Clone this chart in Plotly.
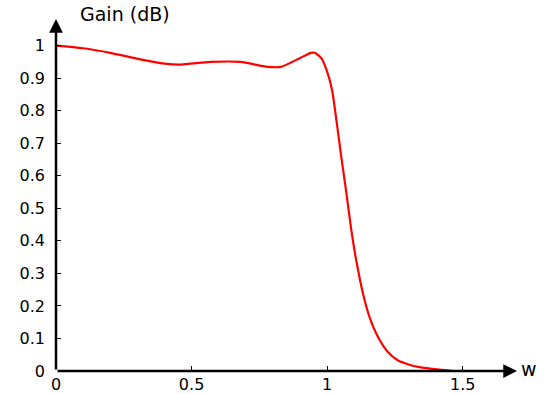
import plotly.graph_objects as go

# Frequency (w) and gain values
w = [0.0, 0.10, 0.20, 0.31, 0.40, 0.46, 0.57, 0.68, 0.78, 0.83, 0.90, 0.94, 0.954,
     0.979, 0.997, 1.018, 1.034, 1.052, 1.071, 1.089, 1.107, 1.132, 1.156, 1.187,
     1.222, 1.26, 1.30, 1.34, 1.414, 1.475, 1.524]
gain = [1.0, 0.992, 0.978, 0.958, 0.945, 0.942, 0.950, 0.950, 0.935, 0.935, 0.962, 0.978, 0.978,
        0.961, 0.927, 0.864, 0.771, 0.658, 0.546, 0.433, 0.341, 0.238, 0.166, 0.105,
        0.060, 0.033, 0.020, 0.012, 0.004, -0.001, -0.006]

x_ticks = [0, 0.5, 1, 1.5]
x_tick_labels = ["0", "0.5", "1", "1.5"]
y_ticks = [0, 0.1, 0.2, 0.3, 0.4, 0.5, 0.6, 0.7, 0.8, 0.9, 1.0]
y_tick_labels = ["0", "0.1", "0.2", "0.3", "0.4", "0.5", "0.6", "0.7", "0.8", "0.9", "1"]

x_max = 1.70
y_max = 1.082

FONT = "DejaVu Sans, Liberation Sans, Arial, sans-serif"

W, H = 544, 394
L, R, T, B = 55.5, 27, 19, 23.3
pw = W - L - R
ph = H - T - B


def px_to_paper(px, py):
    """Convert window pixel coordinates to paper coordinates."""
    return (px - L) / pw, (H - B - py) / ph


fig = go.Figure()
fig.add_trace(go.Scatter(
    x=w, y=gain, mode="lines",
    line=dict(color="#ff0000", width=2.2, shape="spline", smoothing=0.6),
    cliponaxis=False, showlegend=False, hoverinfo="skip",
))

gx, gy = px_to_paper(125, 14)
wx, wy = px_to_paper(519, 369)

fig.update_layout(
    width=W, height=H,
    margin=dict(l=L, r=R, t=T, b=B, pad=0, autoexpand=False),
    paper_bgcolor="white", plot_bgcolor="white",
    font=dict(family=FONT, size=16, color="black"),
    xaxis=dict(
        range=[0, x_max], showgrid=False, zeroline=False, showline=False,
        automargin=False,
        tickmode="array", tickvals=x_ticks, ticktext=x_tick_labels,
        ticks="inside", ticklen=5, tickcolor="black", tickwidth=1,
        tickfont=dict(family=FONT, size=16, color="black"),
        ticklabelstandoff=2,
    ),
    yaxis=dict(
        range=[0, y_max], showgrid=False, zeroline=False, showline=False,
        automargin=False,
        tickmode="array", tickvals=y_ticks, ticktext=y_tick_labels,
        ticks="inside", ticklen=5, tickcolor="black", tickwidth=1,
        tickfont=dict(family=FONT, size=16, color="black"),
        ticklabelstandoff=10,
    ),
    annotations=[
        # x axis with arrow
        dict(x=x_max, y=0, ax=0, ay=0, xref="x", yref="y", axref="x", ayref="y",
             text="", showarrow=True, arrowhead=2, arrowsize=1.1, arrowwidth=2.5,
             arrowcolor="black", standoff=0, startstandoff=0),
        # y axis with arrow
        dict(x=0, y=y_max, ax=0, ay=0, xref="x", yref="y", axref="x", ayref="y",
             text="", showarrow=True, arrowhead=2, arrowsize=1.1, arrowwidth=2.5,
             arrowcolor="black", standoff=0, startstandoff=0),
        dict(x=gx, y=gy, xref="paper", yref="paper",
             text="Gain (dB)", showarrow=False,
             font=dict(family=FONT, size=19, color="black"),
             xanchor="center", yanchor="middle"),
        dict(x=wx, y=wy, xref="paper", yref="paper",
             text="w", showarrow=False,
             font=dict(family=FONT, size=19, color="black"),
             xanchor="left", yanchor="middle"),
    ],
)

fig.write_html(
    "out.html",
    config={"displayModeBar": False},
    post_script="document.body.style.margin='0';document.body.style.overflow='hidden';",
)
